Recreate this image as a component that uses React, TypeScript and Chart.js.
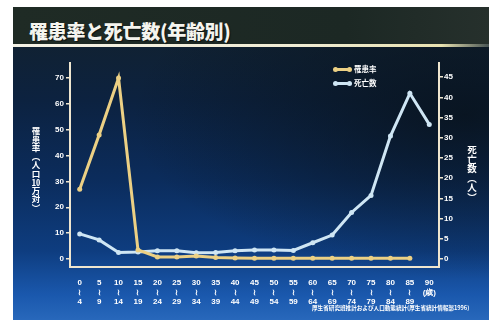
import React, { useEffect, useRef } from 'react';
import { Chart, registerables } from 'chart.js';

Chart.register(...registerables);

const ageLabels: string[][] = [
  ['0', '≀', '4'], ['5', '≀', '9'], ['10', '≀', '14'], ['15', '≀', '19'],
  ['20', '≀', '24'], ['25', '≀', '29'], ['30', '≀', '34'], ['35', '≀', '39'],
  ['40', '≀', '44'], ['45', '≀', '49'], ['50', '≀', '54'], ['55', '≀', '59'],
  ['60', '≀', '64'], ['65', '≀', '69'], ['70', '≀', '74'], ['75', '≀', '79'],
  ['80', '≀', '84'], ['85', '≀', '89'], ['90', '(歳)'],
];

// 罹患率（人口10万対）
const incidence: (number | null)[] = [
  27, 48, 70, 3.5, 0.8, 0.8, 1.2, 0.6, 0.4, 0.3, 0.3, 0.3, 0.3, 0.3, 0.3, 0.3, 0.3, 0.3, null,
];
// 死亡数（人）
const deaths: number[] = [
  6.2, 4.7, 1.6, 1.7, 2, 2, 1.5, 1.6, 2, 2.2, 2.2, 2.1, 4.0, 5.9, 11.5, 15.7, 30.4, 41, 33.3,
];

const leftTicks = [0, 10, 20, 30, 40, 50, 60, 70];
const rightTicks = [0, 5, 10, 15, 20, 25, 30, 35, 40, 45];

const YELLOW = '#ecd084';
const BLUE = '#cfe6f4';
const AXIS = '#efe6cf';

export default function App() {
  const ref = useRef<HTMLCanvasElement | null>(null);

  useEffect(() => {
    document.body.style.margin = '0';
    if (!ref.current) return;
    const tickFont = { family: 'Liberation Sans', size: 8, weight: 'bold' as const };
    const chart = new Chart(ref.current, {
      type: 'line',
      data: {
        labels: ageLabels,
        datasets: [
          {
            label: '罹患率',
            data: incidence,
            yAxisID: 'y',
            borderColor: YELLOW,
            backgroundColor: YELLOW,
            borderWidth: 3,
            pointRadius: 2.5,
            pointBorderWidth: 0,
            tension: 0,
            spanGaps: false,
          },
          {
            label: '死亡数',
            data: deaths,
            yAxisID: 'y1',
            borderColor: BLUE,
            backgroundColor: BLUE,
            borderWidth: 3,
            pointRadius: 2.5,
            pointBorderWidth: 0,
            tension: 0,
          },
        ],
      },
      options: {
        animation: false,
        responsive: false,
        maintainAspectRatio: false,
        layout: { padding: { top: 63, left: 0, right: 0, bottom: 0 } },
        plugins: { legend: { display: false }, tooltip: { enabled: false } },
        scales: {
          x: {
            type: 'category',
            offset: true,
            grid: { display: false },
            border: { display: true, color: AXIS, width: 2 },
            ticks: {
              color: '#ffffff',
              font: tickFont,
              maxRotation: 0,
              autoSkip: false,
              padding: 3,
            },
            afterFit: (s: any) => { s.height = 53; },
          },
          y: {
            type: 'linear',
            position: 'left',
            min: -3.1,
            max: 75.8,
            grid: { drawOnChartArea: false, drawTicks: true, tickLength: 4, color: AXIS, lineWidth: 1.5 },
            border: { display: true, color: AXIS, width: 2 },
            ticks: { color: '#ffffff', font: tickFont, padding: 2 },
            afterBuildTicks: (s: any) => { s.ticks = leftTicks.map((v) => ({ value: v })); },
            afterFit: (s: any) => { s.width = 70; },
          },
          y1: {
            type: 'linear',
            position: 'right',
            min: -2.0,
            max: 48.5,
            grid: { drawOnChartArea: false, drawTicks: true, tickLength: 4, color: AXIS, lineWidth: 1.5 },
            border: { display: true, color: AXIS, width: 2 },
            ticks: { color: '#ffffff', font: tickFont, padding: 1 },
            afterBuildTicks: (s: any) => { s.ticks = rightTicks.map((v) => ({ value: v })); },
            afterFit: (s: any) => { s.width = 50; },
          },
        },
      },
    });
    return () => chart.destroy();
  }, []);

  const cjk = '"Noto Sans CJK JP", "Noto Sans", sans-serif';

  const legendRow = (color: string, text: string, top: number) => (
    <div style={{ position: 'absolute', left: 333, top: top - 5, height: 10, width: 60 }}>
      <div style={{ position: 'absolute', left: 1, top: 4, width: 16, height: 2.5, background: color }} />
      <div style={{ position: 'absolute', left: 0, top: 2.5, width: 5, height: 5, borderRadius: 3, background: color }} />
      <div style={{ position: 'absolute', left: 14, top: 2.5, width: 5, height: 5, borderRadius: 3, background: color }} />
      <div style={{ position: 'absolute', left: 21, top: 0, fontFamily: cjk, fontWeight: 700, fontSize: 7.5, lineHeight: '10px', color: '#ffffff', whiteSpace: 'nowrap' }}>{text}</div>
    </div>
  );

  return (
    <div style={{ position: 'fixed', left: 0, top: 0, width: 489, height: 320, background: '#ffffff', overflow: 'hidden' }}>
      {/* slide background */}
      <div style={{ position: 'absolute', left: 13, top: 7, right: 0, bottom: 0,
        background: 'linear-gradient(to bottom, #13212a 0%, #0c2240 30%, #0b2c5c 55%, #0e3d80 78%, #1a58ad 92%, #2868bb 100%)' }} />
      <div style={{ position: 'absolute', left: 13, top: 47, right: 0, bottom: 0,
        background: 'radial-gradient(ellipse 70% 60% at 95% 25%, rgba(8,16,22,0.75) 0%, rgba(8,16,22,0) 100%)' }} />
      {/* title bar */}
      <div style={{ position: 'absolute', left: 13, top: 7, right: 0, height: 37,
        background: 'linear-gradient(to right, #1f2b25 0%, #1c2824 70%, #26302c 100%)' }} />
      <div style={{ position: 'absolute', left: 13, top: 44, right: 0, height: 2.5,
        background: 'linear-gradient(to right, #f4f2e6 0%, #f0ecd4 60%, #e8e2b0 90%, rgba(200,200,160,0.3) 100%)' }} />
      <div style={{ position: 'absolute', left: 29, top: 19, fontFamily: cjk, fontWeight: 900, fontSize: 19, lineHeight: '24px', color: '#f4f4ee', whiteSpace: 'nowrap', textShadow: '1px 1px 1px rgba(0,0,0,0.6)', letterSpacing: '-0.3px' }}>
        罹患率と死亡数(年齢別)
      </div>
      <canvas ref={ref} width={489} height={320} style={{ position: 'absolute', left: 0, top: 0, width: 489, height: 320 }} />
      {/* axis titles */}
      <div style={{ position: 'absolute', left: 30, top: 127, writingMode: 'vertical-rl', fontFamily: cjk, fontWeight: 700, fontSize: 8.5, lineHeight: '11px', color: '#ffffff', whiteSpace: 'nowrap' }}>
        罹患率（人口<span style={{ textCombineUpright: 'all' } as any}>10</span>万対）
      </div>
      <div style={{ position: 'absolute', left: 466, top: 145, writingMode: 'vertical-rl', fontFamily: cjk, fontWeight: 700, fontSize: 9.5, lineHeight: '12px', color: '#ffffff', whiteSpace: 'nowrap' }}>
        死亡数（人）
      </div>
      {legendRow(YELLOW, '罹患率', 69)}
      {legendRow(BLUE, '死亡数', 83)}
      <div style={{ position: 'absolute', left: 312, top: 304, fontFamily: cjk, fontWeight: 700, fontSize: 5.6, lineHeight: '8px', color: '#ffffff', whiteSpace: 'nowrap' }}>
        厚生省研究班推計および人口動態統計(厚生省統計情報部1996)
      </div>
    </div>
  );
}
